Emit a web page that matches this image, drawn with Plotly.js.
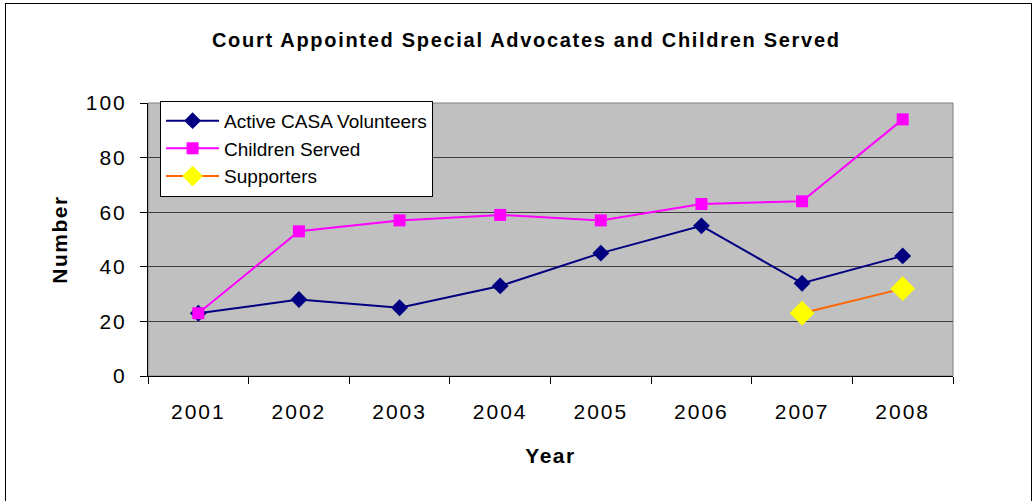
<!DOCTYPE html>
<html>
<head>
<meta charset="utf-8">
<script src="https://cdn.plot.ly/plotly-3.0.1.min.js"></script>
<style>
  html, body { margin: 0; padding: 0; background: #fff; }
  #wrap { position: relative; width: 1032px; height: 501px; overflow: hidden; }
  #chart { width: 1032px; height: 501px; }
  #frame { position: absolute; left: 5px; top: 3px; width: 1025px; height: 520px; border: 1px solid #000; pointer-events: none; }
  #chart .xtick text, #chart .ytick text { letter-spacing: 2px; }
  #chart .gtitle { letter-spacing: 1.7px; }
  #chart .xtitle, #chart .ytitle { letter-spacing: 1.5px; }
</style>
</head>
<body>
<div id="wrap">
  <div id="chart"></div>
  <div id="frame"></div>
</div>
<script>
const years = ["2001", "2002", "2003", "2004", "2005", "2006", "2007", "2008"];
const activeVolunteers = [23, 28, 25, 33, 45, 55, 34, 44];
const childrenServed = [23, 53, 57, 59, 57, 63, 64, 94];
const supporters = [null, null, null, null, null, null, 23, 32];
const yTicks = [0, 20, 40, 60, 80, 100];

const traces = [
  {
    x: years, y: activeVolunteers, name: "Active CASA Volunteers",
    type: "scatter", mode: "lines+markers",
    line: { color: "#000080", width: 2 },
    marker: { symbol: "diamond", size: 13, color: "#000080" }
  },
  {
    x: years, y: childrenServed, name: "Children Served",
    type: "scatter", mode: "lines+markers",
    line: { color: "#FF00FF", width: 2 },
    marker: { symbol: "square", size: 12, color: "#FF00FF" }
  },
  {
    x: years, y: supporters, name: "Supporters",
    type: "scatter", mode: "lines+markers",
    line: { color: "#FF6600", width: 2 },
    marker: { symbol: "diamond", size: 19, color: "#FFFF00" }
  }
];

const layout = {
  width: 1032, height: 501,
  margin: { l: 148, r: 79, t: 103, b: 125, pad: 0 },
  paper_bgcolor: "#ffffff",
  plot_bgcolor: "#C0C0C0",
  font: { family: "Arial, Liberation Sans, sans-serif", color: "#000" },
  title: {
    text: "<b>Court Appointed Special Advocates and Children Served</b>",
    font: { size: 20, family: "Arial, Liberation Sans, sans-serif", color: "#000" },
    x: 0.51, xanchor: "center", y: 0.921, yanchor: "middle"
  },
  xaxis: {
    type: "category",
    tickson: "boundaries",
    ticks: "outside", ticklen: 7, tickcolor: "#000", tickwidth: 1,
    showline: true, linecolor: "#000", linewidth: 1,
    showgrid: false, zeroline: false,
    tickfont: { size: 21 },
    ticklabelstandoff: 17,
    title: { text: "<b>Year</b>", font: { size: 21 }, standoff: 26 },
    range: [-0.5, 7.5]
  },
  yaxis: {
    range: [0, 100],
    tickvals: yTicks,
    ticks: "outside", ticklen: 7, tickcolor: "#000", tickwidth: 1,
    showline: true, linecolor: "#000", linewidth: 1,
    showgrid: true, gridcolor: "#404040", gridwidth: 1,
    zeroline: false,
    tickfont: { size: 21 },
    ticklabelstandoff: 9,
    title: { text: "<b>Number</b>", font: { size: 21 }, standoff: 18 }
  },
  shapes: [
    { type: "rect", xref: "paper", yref: "paper", x0: 0, x1: 1, y0: 0, y1: 1,
      line: { color: "#808080", width: 1 }, layer: "below" }
  ],
  legend: {
    x: 0.015, y: 1.008, xanchor: "left", yanchor: "top",
    bgcolor: "#ffffff", bordercolor: "#000", borderwidth: 1,
    font: { size: 19, color: "#000" },
    tracegroupgap: 0,
    itemwidth: 53
  },
  showlegend: true
};

Plotly.newPlot("chart", traces, layout, { displayModeBar: false, staticPlot: true });
</script>
</body>
</html>
